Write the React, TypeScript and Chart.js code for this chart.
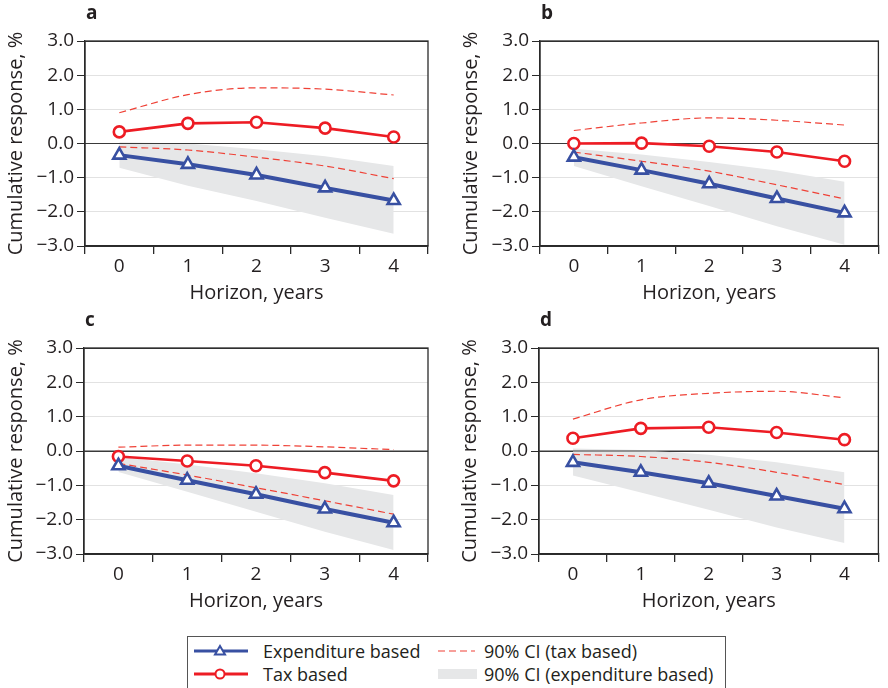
import React, { useEffect, useRef } from "react";
import { Chart, registerables } from "chart.js";
Chart.register(...registerables);

const FONT = "'Open Sans', sans-serif";
const TEXT = "#231f20";
const BLUE = "#3850a2";
const RED = "#ed1c24";
const RED_DASH = "#ef4136";
const BAND = "#e6e7e8";

const HORIZON = ["0", "1", "2", "3", "4"];
const Y_MIN = -3;
const Y_MAX = 3;
const Y_STEP = 1;

// Panel a
const aExp = [-0.34, -0.61, -0.92, -1.3, -1.67];
const aTax = [0.34, 0.59, 0.62, 0.45, 0.19];
const aTaxHi = [0.9, 1.43, 1.63, 1.59, 1.42];
const aTaxLo = [-0.1, -0.19, -0.4, -0.66, -1.03];
const aExpHi = [0.04, 0.0, -0.17, -0.37, -0.66];
const aExpLo = [-0.71, -1.24, -1.68, -2.17, -2.64];

// Panel b
const bExp = [-0.4, -0.78, -1.18, -1.61, -2.03];
const bTax = [0.0, 0.01, -0.08, -0.25, -0.52];
const bTaxHi = [0.38, 0.6, 0.75, 0.68, 0.54];
const bTaxLo = [-0.25, -0.52, -0.81, -1.21, -1.62];
const bExpHi = [-0.15, -0.32, -0.54, -0.79, -1.12];
const bExpLo = [-0.66, -1.25, -1.83, -2.42, -2.96];

// Panel c
const cExp = [-0.43, -0.85, -1.26, -1.69, -2.09];
const cTax = [-0.16, -0.29, -0.43, -0.63, -0.87];
const cTaxHi = [0.11, 0.17, 0.17, 0.12, 0.04];
const cTaxLo = [-0.36, -0.7, -1.07, -1.45, -1.84];
const cExpHi = [-0.17, -0.39, -0.65, -0.94, -1.28];
const cExpLo = [-0.61, -1.19, -1.77, -2.35, -2.88];

// Panel d
const dExp = [-0.33, -0.62, -0.94, -1.31, -1.68];
const dTax = [0.37, 0.66, 0.69, 0.54, 0.33];
const dTaxHi = [0.93, 1.49, 1.68, 1.74, 1.55];
const dTaxLo = [-0.1, -0.16, -0.33, -0.62, -0.98];
const dExpHi = [0.07, 0.03, -0.11, -0.33, -0.62];
const dExpLo = [-0.71, -1.21, -1.71, -2.23, -2.68];

const LEGEND_LABELS = [
  "Expenditure based",
  "Tax based",
  "90% CI (tax based)",
  "90% CI (expenditure based)",
];
const X_TITLE = "Horizon, years";
const Y_TITLE = "Cumulative response, %";

type PanelProps = {
  letter: string;
  exp: number[];
  tax: number[];
  taxHi: number[];
  taxLo: number[];
  expHi: number[];
  expLo: number[];
  left: number;
  top: number;
  width: number;
  height: number;
  yWidth: number;
  padRight: number;
};

function fmt(v: number) {
  const s = Math.abs(v).toFixed(1);
  return v < 0 ? "\u2212" + s : s;
}

function Panel(p: PanelProps) {
  const ref = useRef<HTMLCanvasElement | null>(null);
  useEffect(() => {
    if (!ref.current) return;
    const framePlugin = {
      id: "frame" + p.letter,
      afterDatasetDraw(chart: any, args: any) {
        if (args.index !== 4) return;
        const { ctx, chartArea } = chart;
        const y0 = chart.scales.y.getPixelForValue(0);
        ctx.save();
        ctx.strokeStyle = "#3a3a3a";
        ctx.lineWidth = 1.2;
        ctx.beginPath();
        ctx.moveTo(chartArea.left, y0);
        ctx.lineTo(chartArea.right, y0);
        ctx.stroke();
        ctx.restore();
      },
      afterDraw(chart: any) {
        const { ctx, chartArea } = chart;
        ctx.save();
        ctx.strokeStyle = "#2a2a2a";
        ctx.lineWidth = 1.3;
        ctx.strokeRect(
          chartArea.left,
          chartArea.top,
          chartArea.right - chartArea.left,
          chartArea.bottom - chartArea.top
        );
        ctx.fillStyle = TEXT;
        ctx.font = "bold 19px " + FONT;
        ctx.textBaseline = "middle";
        ctx.textAlign = "left";
        ctx.fillText(p.letter, chartArea.left + 1, chartArea.top - 27);
        ctx.restore();
      },
    };
    const chart = new Chart(ref.current, {
      type: "line",
      data: {
        labels: HORIZON,
        datasets: [
          {
            label: LEGEND_LABELS[0],
            data: p.exp,
            borderColor: BLUE,
            borderWidth: 4,
            pointStyle: "triangle",
            pointRadius: 7,
            pointBorderWidth: 2.6,
            pointBackgroundColor: "#ffffff",
            pointBorderColor: BLUE,
            order: 0,
          },
          {
            label: LEGEND_LABELS[1],
            data: p.tax,
            borderColor: RED,
            borderWidth: 2.6,
            pointStyle: "circle",
            pointRadius: 5.5,
            pointBorderWidth: 2.6,
            pointBackgroundColor: "#ffffff",
            pointBorderColor: RED,
            order: 0,
          },
          {
            label: LEGEND_LABELS[2],
            data: p.taxHi,
            borderColor: RED_DASH,
            borderWidth: 1.2,
            borderDash: [7, 4],
            pointRadius: 0,
            tension: 0.35,
            cubicInterpolationMode: "monotone",
            order: 1,
          },
          {
            label: LEGEND_LABELS[2],
            data: p.taxLo,
            borderColor: RED_DASH,
            borderWidth: 1.2,
            borderDash: [7, 4],
            pointRadius: 0,
            tension: 0.35,
            cubicInterpolationMode: "monotone",
            order: 1,
          },
          {
            label: LEGEND_LABELS[3],
            data: p.expHi,
            borderWidth: 0,
            borderColor: "rgba(0,0,0,0)",
            backgroundColor: BAND,
            pointRadius: 0,
            fill: "+1",
            order: 2,
          },
          {
            label: LEGEND_LABELS[3],
            data: p.expLo,
            borderWidth: 0,
            borderColor: "rgba(0,0,0,0)",
            backgroundColor: BAND,
            pointRadius: 0,
            fill: false,
            order: 2,
          },
        ],
      },
      options: {
        responsive: false,
        animation: false,
        devicePixelRatio: 1,
        layout: { padding: { top: 41, right: p.padRight, left: 0, bottom: 0 } },
        plugins: {
          legend: { display: false },
          tooltip: { enabled: false },
          title: { display: false },
        },
        scales: {
          x: {
            type: "category",
            offset: true,
            afterFit: (s: any) => {
              s.height = 64;
            },
            grid: {
              offset: true,
              drawOnChartArea: false,
              tickLength: 8,
              tickColor: "#2a2a2a",
              lineWidth: 1.3,
            },
            border: { display: true, color: "#2a2a2a", width: 1.3 },
            ticks: {
              color: TEXT,
              font: { family: FONT, size: 19 },
              padding: 1,
            },
            title: {
              display: true,
              text: X_TITLE,
              color: TEXT,
              font: { family: FONT, size: 20 },
              padding: { top: 0, bottom: 5 },
            },
          },
          y: {
            min: Y_MIN,
            max: Y_MAX,
            afterFit: (s: any) => {
              s.width = p.yWidth;
            },
            grid: {
              color: (c: any) =>
                c.tick && (c.tick.value === 0 || Math.abs(c.tick.value) === 3)
                  ? "#3a3a3a"
                  : "#e2e2e2",
              lineWidth: 1,
              tickLength: 8,
              tickColor: "#2a2a2a",
            },
            border: { display: true, color: "#2a2a2a", width: 1.3 },
            ticks: {
              stepSize: Y_STEP,
              color: TEXT,
              font: { family: FONT, size: 19 },
              padding: 3,
              callback: (v: any) => fmt(Number(v)),
            },
            title: {
              display: true,
              text: Y_TITLE,
              color: TEXT,
              font: { family: FONT, size: 20 },
              padding: { top: 4, bottom: 0 },
            },
          },
        },
      } as any,
      plugins: [framePlugin],
    });
    return () => chart.destroy();
  }, []);
  return (
    <canvas
      ref={ref}
      width={p.width}
      height={p.height}
      style={{
        position: "absolute",
        left: p.left,
        top: p.top,
        width: p.width,
        height: p.height,
      }}
    />
  );
}

function Legend() {
  const txt: React.CSSProperties = {
    position: "absolute",
    fontFamily: FONT,
    fontSize: 18,
    color: TEXT,
    lineHeight: "22px",
    whiteSpace: "nowrap",
  };
  return (
    <div
      style={{
        position: "absolute",
        left: 187,
        top: 636,
        width: 539,
        height: 60,
        border: "1px solid #555",
        boxSizing: "border-box",
        background: "#fff",
      }}
    >
      <svg
        width={539}
        height={60}
        style={{ position: "absolute", left: 0, top: 0 }}
      >
        <line x1={6} y1={14} x2={60} y2={14} stroke={BLUE} strokeWidth={3} />
        <polygon
          points="32,9 37,17.5 27,17.5"
          fill="#fff"
          stroke={BLUE}
          strokeWidth={2}
        />
        <line x1={6} y1={37} x2={60} y2={37} stroke={RED} strokeWidth={3} />
        <circle cx={32} cy={37} r={4.5} fill="#fff" stroke={RED} strokeWidth={2} />
        <line
          x1={250}
          y1={14}
          x2={287}
          y2={14}
          stroke={RED_DASH}
          strokeWidth={1.2}
          strokeDasharray="7 4"
        />
        <rect x={250} y={32} width={39} height={10} fill={BAND} />
      </svg>
      <div style={{ ...txt, left: 75, top: 3 }}>{LEGEND_LABELS[0]}</div>
      <div style={{ ...txt, left: 75, top: 26 }}>{LEGEND_LABELS[1]}</div>
      <div style={{ ...txt, left: 296, top: 3 }}>{LEGEND_LABELS[2]}</div>
      <div style={{ ...txt, left: 296, top: 26 }}>{LEGEND_LABELS[3]}</div>
    </div>
  );
}

export default function App() {
  return (
    <div
      style={{
        position: "fixed",
        left: 0,
        top: 0,
        width: 888,
        height: 688,
        background: "#fff",
        overflow: "hidden",
      }}
    >
      <Panel letter="a" exp={aExp} tax={aTax} taxHi={aTaxHi} taxLo={aTaxLo} expHi={aExpHi} expLo={aExpLo}
        left={0} top={0} width={444} height={310} yWidth={85} padRight={16} />
      <Panel letter="b" exp={bExp} tax={bTax} taxHi={bTaxHi} taxLo={bTaxLo} expHi={bExpHi} expLo={bExpLo}
        left={455} top={0} width={433} height={310} yWidth={85} padRight={6} />
      <Panel letter="c" exp={cExp} tax={cTax} taxHi={cTaxHi} taxLo={cTaxLo} expHi={cExpHi} expLo={cExpLo}
        left={0} top={307} width={444} height={311} yWidth={84} padRight={16} />
      <Panel letter="d" exp={dExp} tax={dTax} taxHi={dTaxHi} taxLo={dTaxLo} expHi={dExpHi} expLo={dExpLo}
        left={454} top={307} width={434} height={311} yWidth={85} padRight={6} />
      <Legend />
    </div>
  );
}
